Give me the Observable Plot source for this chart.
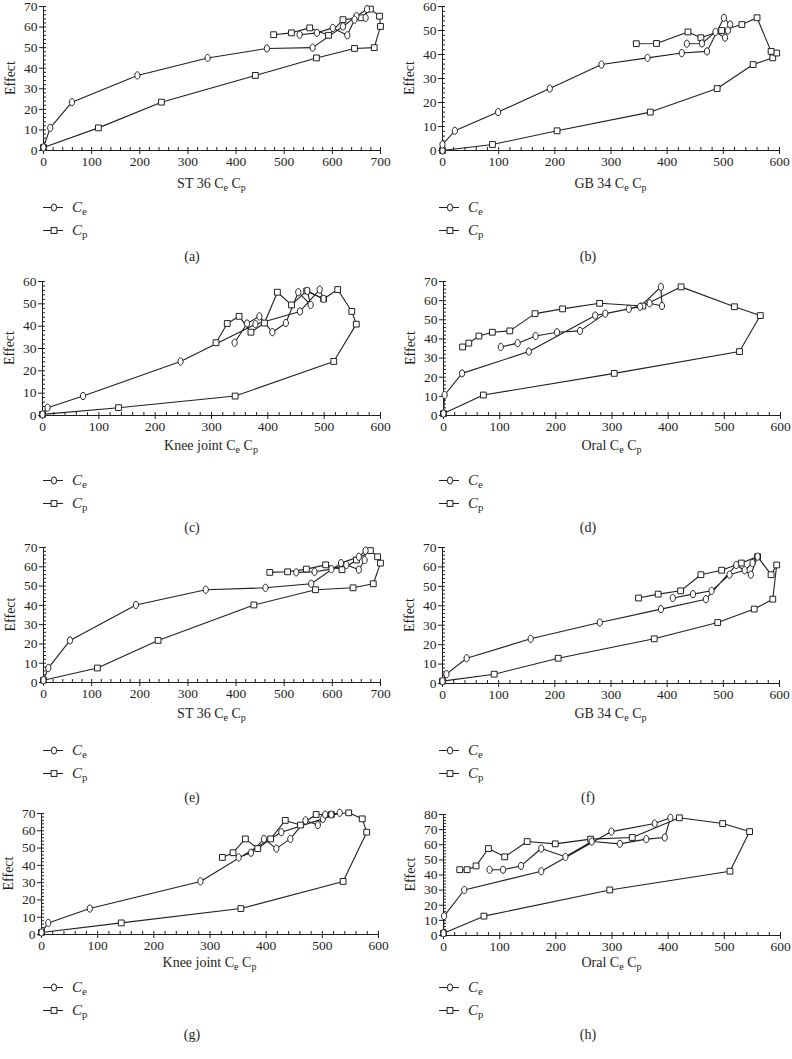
<!DOCTYPE html>
<html>
<head>
<meta charset="utf-8">
<script src="https://cdn.jsdelivr.net/npm/d3@7"></script>
<script src="https://cdn.jsdelivr.net/npm/@observablehq/plot@0.6"></script>
<style>
  body { margin: 0; background: #fff; }
  #root { position: relative; width: 792px; height: 1059px; overflow: hidden;
          font-family: "Liberation Serif", "Times New Roman", serif; color: #231f20; }
  .abs { position: absolute; white-space: nowrap; }
  .xlab { font-size: 14px; transform: translate(-50%, -50%); }
  .xlab sub, .leg sub { font-size: 72%; vertical-align: -0.3em; line-height: 0; }
  .cap { font-size: 14px; transform: translate(-50%, -50%); }
  .leg { font-size: 15px; display: flex; align-items: center; transform: translateY(-50%); }
  .leg i { font-style: italic; }
  .leg svg { margin-right: 9px; }
  svg.plot { position: absolute; }
</style>
</head>
<body>
<div id="root"></div>
<script>
// ---------------- data ----------------
// (a) ST 36
const effectA = [1.5, 11, 23.5, 36.5, 45, 49.6, 50, 60.3, 65.3, 68.7, 64.5, 63.6, 56, 59.6, 57.2, 56.3];
const ceA     = [0, 14, 59, 195, 341, 464, 559, 622, 650, 672, 669, 646, 631, 601, 568, 532];
const cpA     = [0, 114, 245, 440, 567, 646, 687, 700, 698, 679, 660, 622, 592, 553, 515, 478];
// (b) GB 34
const effectB = [0, 2.5, 8.2, 16, 25.8, 35.8, 38.6, 40.6, 41.3, 55.3, 52.5, 50, 47, 49.4, 44.6, 44.5];
const ceB     = [0, 0, 22, 99, 191, 283, 365, 426, 471, 501, 512, 508, 503, 486, 462, 435];
const cpB     = [0, 89, 204, 370, 489, 553, 588, 595, 585, 560, 533, 497, 460, 437, 381, 345];
// (c) Knee joint
const effectC = [0.5, 3.5, 8.7, 24.2, 40.9, 46.6, 56.4, 52.2, 55.8, 49.5, 55.2, 41.4, 37.3, 44.4, 41.2, 32.6];
const ceC     = [0, 9, 72, 245, 378, 457, 492, 499, 470, 476, 454, 432, 408, 385, 363, 341];
const cpC     = [0, 135, 342, 517, 557, 549, 524, 499, 469, 442, 417, 394, 370, 349, 328, 308];
// (d) Oral
const effectD = [1, 10.7, 22, 33.4, 52.2, 56.8, 67.2, 57.2, 58.6, 55.7, 53.2, 44.2, 43.5, 41.5, 37.8, 35.8];
const ceD     = [0, 2, 33, 152, 270, 350, 387, 389, 367, 330, 288, 243, 202, 164, 132, 102];
const cpD     = [0, 71, 304, 527, 564, 518, 423, 355, 278, 212, 163, 118, 87, 63, 45, 34];
// (e) ST 36
const effectE = [1.2, 7.5, 21.8, 40.2, 48.1, 49.1, 51.2, 61.9, 65.2, 68.4, 63.5, 58.5, 61, 58.8, 57.4, 57.1];
const ceE     = [0, 10, 55, 192, 337, 461, 556, 618, 655, 669, 667, 655, 629, 598, 563, 525];
const cpE     = [0, 112, 238, 437, 565, 643, 685, 700, 694, 679, 650, 620, 586, 546, 507, 470];
// (f) GB 34
const effectF = [1.2, 4.8, 13, 23, 31.4, 38.3, 43.4, 61, 56, 65.3, 62, 58.3, 56, 47.7, 46, 44];
const ceF     = [0, 7, 43, 157, 280, 389, 469, 523, 549, 561, 552, 538, 511, 479, 446, 410];
const cpF     = [0, 92, 206, 377, 490, 555, 588, 595, 585, 561, 532, 497, 460, 424, 384, 349];
// (g) Knee joint
const effectG = [1.2, 6.7, 15, 30.7, 59.2, 66.9, 70.4, 69.4, 69.4, 63.3, 66, 55.3, 49.7, 55.3, 47.3, 44.6];
const ceG     = [0, 12, 86, 283, 427, 501, 531, 516, 505, 492, 470, 443, 418, 396, 373, 351];
const cpG     = [0, 142, 355, 537, 579, 571, 547, 516, 489, 461, 434, 408, 385, 363, 341, 322];
// (h) Oral
const effectH = [1.5, 12.8, 30.1, 42.5, 68.7, 74, 77.8, 64.8, 63.7, 60.6, 62.1, 52, 57.5, 46, 43.5, 43.5];
const ceH     = [0, 1, 37, 174, 299, 376, 404, 394, 361, 314, 264, 217, 174, 138, 106, 82];
const cpH     = [0, 72, 296, 510, 545, 497, 420, 336, 262, 199, 149, 109, 80, 58, 42, 29];

const panelLetters = ["a", "b", "c", "d", "e", "f", "g", "h"];
const siteNames    = ["ST 36", "GB 34", "Knee joint", "Oral", "ST 36", "GB 34", "Knee joint", "Oral"];
const xMaxes       = [700, 600, 600, 600, 700, 600, 600, 600];
const yMaxes       = [70, 60, 60, 70, 70, 70, 70, 80];
const effects = [effectA, effectB, effectC, effectD, effectE, effectF, effectG, effectH];
const ces     = [ceA, ceB, ceC, ceD, ceE, ceF, ceG, ceH];
const cps     = [cpA, cpB, cpC, cpD, cpE, cpF, cpG, cpH];
const seriesNames = ["e", "p"];

// ---------------- layout (page pixels) ----------------
const layout = [
  {left: 43,  right: 380, top: 6,   bottom: 150, label: 184, leg: 207, cap: 257},
  {left: 442, right: 779, top: 6,   bottom: 150, label: 184, leg: 207, cap: 257},
  {left: 42,  right: 380, top: 281, bottom: 415, label: 446, leg: 480, cap: 528},
  {left: 443, right: 780, top: 281, bottom: 415, label: 446, leg: 480, cap: 528},
  {left: 43,  right: 380, top: 547, bottom: 682, label: 714, leg: 750, cap: 798},
  {left: 442, right: 779, top: 547, bottom: 683, label: 714, leg: 750, cap: 798},
  {left: 41,  right: 378, top: 813, bottom: 934, label: 963, leg: 987, cap: 1035},
  {left: 443, right: 780, top: 814, bottom: 935, label: 963, leg: 987, cap: 1035}
];
const INK = "#231f20";

// custom marker shapes: tall open ellipse and open square
const ellipseSym = {draw(ctx) {
  const rx = 2.6, ry = 3.6, k = 0.5523;
  ctx.moveTo(rx, 0);
  ctx.bezierCurveTo(rx, ry * k, rx * k, ry, 0, ry);
  ctx.bezierCurveTo(-rx * k, ry, -rx, ry * k, -rx, 0);
  ctx.bezierCurveTo(-rx, -ry * k, -rx * k, -ry, 0, -ry);
  ctx.bezierCurveTo(rx * k, -ry, rx, -ry * k, rx, 0);
  ctx.closePath();
}};
const squareSym = {draw(ctx) { const h = 2.9; ctx.rect(-h, -h, 2 * h, 2 * h); }};

const root = document.getElementById("root");

function addDiv(cls, x, y, html) {
  const d = document.createElement("div");
  d.className = "abs " + cls;
  d.style.left = x + "px";
  d.style.top = y + "px";
  d.innerHTML = html;
  root.appendChild(d);
  return d;
}

panelLetters.forEach((letter, i) => {
  const L = layout[i];
  const xMax = xMaxes[i], yMax = yMaxes[i];
  const ceData = ces[i].map((x, j) => ({x, y: effects[i][j]}));
  const cpData = cps[i].map((x, j) => ({x, y: effects[i][j]}));
  const ml = 40, mr = 12, mt = 8, mb = 22;
  const W = L.right - L.left, H = L.bottom - L.top;
  const svg = Plot.plot({
    width: W + ml + mr,
    height: H + mt + mb,
    marginLeft: ml, marginRight: mr, marginTop: mt, marginBottom: mb,
    style: {fontFamily: '"Liberation Serif", "Times New Roman", serif', fontSize: "13.5px", color: INK, background: "transparent", overflow: "visible"},
    x: {domain: [0, xMax]},
    y: {domain: [0, yMax]},
    marks: [
      Plot.ruleY([0], {stroke: INK, strokeWidth: 1}),
      Plot.ruleX([0], {stroke: INK, strokeWidth: 1}),
      Plot.axisX(d3.range(0, xMax + 1, 100), {tickSize: 4, tickPadding: 2, label: null, stroke: INK, fill: INK, fontSize: 13.5}),
      Plot.axisX(d3.range(0, xMax + 1, 20), {tickSize: -3, tickFormat: () => "", label: null, stroke: INK}),
      Plot.axisY(d3.range(0, yMax + 1, 10), {tickSize: 4, tickPadding: 2, label: null, stroke: INK, fill: INK, fontSize: 13.5}),
      Plot.axisY(d3.range(0, yMax + 1, 2), {tickSize: -3, tickFormat: () => "", label: null, stroke: INK}),
      Plot.line(cpData, {x: "x", y: "y", stroke: INK, strokeWidth: 1.1}),
      Plot.line(ceData, {x: "x", y: "y", stroke: INK, strokeWidth: 1.1}),
      Plot.dot(cpData, {x: "x", y: "y", symbol: squareSym, fill: "white", stroke: INK, strokeWidth: 1}),
      Plot.dot(ceData, {x: "x", y: "y", symbol: ellipseSym, fill: "white", stroke: INK, strokeWidth: 1})
    ]
  });
  svg.classList.add("plot");
  svg.style.left = (L.left - ml) + "px";
  svg.style.top = (L.top - mt) + "px";
  // y-axis title
  d3.select(svg).append("text")
    .attr("transform", `translate(${ml - 31},${mt + H / 2}) rotate(-90)`)
    .attr("text-anchor", "middle")
    .attr("dominant-baseline", "middle")
    .attr("fill", INK)
    .style("font-size", "14px")
    .text("Effect");
  root.appendChild(svg);

  // x-axis title
  addDiv("xlab", (L.left + L.right) / 2, L.label, `${siteNames[i]} C<sub>e</sub> C<sub>p</sub>`);

  // legend
  const colX = i % 2 === 0 ? 0 : 396;
  seriesNames.forEach((s, k) => {
    const sym = s === "e"
      ? `<ellipse cx="11" cy="6" rx="2.6" ry="3.6" fill="white" stroke="${INK}"/>`
      : `<rect x="8.1" y="3.1" width="5.8" height="5.8" fill="white" stroke="${INK}"/>`;
    addDiv("leg", colX + 43, L.leg + k * 23,
      `<svg width="20" height="12"><line x1="0" y1="6" x2="20" y2="6" stroke="${INK}" stroke-width="1.1"/>${sym}</svg><span><i>C</i><sub>${s}</sub></span>`);
  });

  // panel caption
  addDiv("cap", colX + 192, L.cap, `(${letter})`);
});
</script>
</body>
</html>
